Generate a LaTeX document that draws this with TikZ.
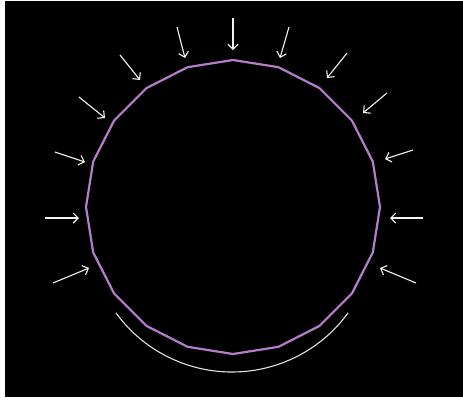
\documentclass[tikz,border=0pt]{standalone}
\usetikzlibrary{arrows.meta}
\definecolor{ink}{HTML}{000000}
\definecolor{rim}{HTML}{B57DC8}
\definecolor{chalk}{HTML}{F4F4F4}
\definecolor{bowl}{HTML}{E2E2E2}
\tikzset{
  ring/.style={draw=rim,line width=2.2pt,line join=round},
  push/.style={-{Straight Barb[length=5pt,width=10pt]},draw=chalk,line width=1.1pt},
  brace/.style={draw=bowl,line width=1.1pt},
}
\begin{document}
\begin{tikzpicture}[x=1pt,y=-1pt]
  \useasboundingbox (0,0) rectangle (463,400);
  \fill[white] (0,0) rectangle (463,400);
  \fill[ink] (5,1) rectangle (463,397);
  % ── the ring, a 20-gon ──
  \draw[ring] plot[samples=21,domain=0:360] ({233+147*cos(\x+90)},{207+147*sin(\x+90)}) -- cycle;
  % ── pressure arrows ──
  \foreach \a/\b/\p/\q in {233/18/233/50,177/27/185/58,289/27/280/58,120/55/140/80,347/53/327/78,
      79/97/105/118,387/93/363/113,55/152/85/162,413/150/385/159,45/218/79/218,423/218/390/218,
      53/283/89/268,416/283/380/268} {
    \coordinate (s) at (\a,\b);
    \coordinate (t) at (\p,\q);
    \draw[push] (s) -- (t);
  }
  % ── arc below ──
  \coordinate (o) at (232,228.5);
  \draw[brace] (o) ++(144:143.5) arc[start angle=144,end angle=36,radius=143.5];
\end{tikzpicture}
\end{document}
